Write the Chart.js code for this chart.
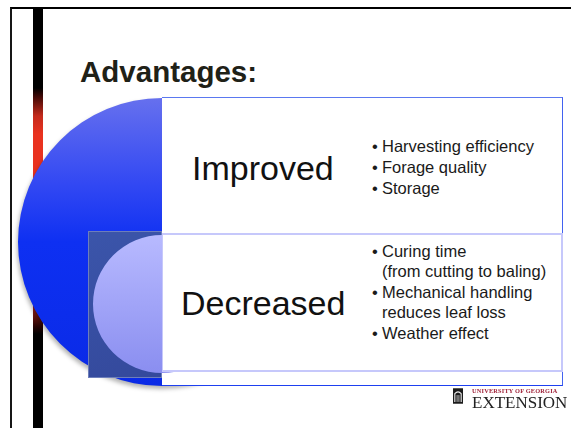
<!DOCTYPE html>
<html>
<head>
<meta charset="utf-8">
<script src="https://cdn.jsdelivr.net/npm/chart.js@4.4.1/dist/chart.umd.min.js"></script>
<style>
  html, body { margin: 0; padding: 0; background: #fff; }
  body { width: 571px; height: 428px; position: relative; overflow: hidden; font-family: 'Liberation Sans', Arial, sans-serif; }
  .abs { position: absolute; box-sizing: border-box; }
  #frame { left: 10px; top: 7px; width: 620px; height: 480px; border-top: 2px solid #000; border-left: 2px solid #161616; }
  #stripe { left: 33px; top: 8px; width: 10px; height: 420px;
    background: linear-gradient(to bottom, #000 0px, #000 80px, #3c0805 88px, #c42a1c 108px, #e9321f 126px, #e9321f 272px, #a8241a 298px, #2a0403 318px, #000 326px, #000 420px); }
  #title { left: 80px; top: 57px; font-size: 29.5px; font-weight: bold; line-height: 29px; color: #1f2117; white-space: nowrap; }
  #bigCircle { left: 18px; top: 98px; filter: drop-shadow(-1px 3px 2px rgba(0,0,0,0.3)); }
  #outer { left: 162px; top: 97px; width: 401px; height: 289px; background: #fff;
    border-top: 1px solid #5a78f0; border-right: 1px solid #4262f0; border-bottom: 1.5px solid #1e40f0; }
  #square { left: 88px; top: 231px; width: 74px; height: 147px; border: 1px solid rgba(120,135,190,0.85);
    background: linear-gradient(160deg, #3b55aa 0%, #34499c 100%); }
  #smallCircle { left: 93px; top: 235px; }
  #lower { left: 162px; top: 233px; width: 401px; height: 139px; background: #fff; border: 2px solid #c6c8fb; border-left-width: 1px; }
  .head { font-size: 34px; line-height: 34px; color: #111; white-space: nowrap; }
  .list { left: 372px; margin: 0; padding: 0; list-style: none; font-size: 16.5px; line-height: 20px; color: #1a1a1a; white-space: pre; }
  .list li { position: relative; padding-left: 10px; margin-bottom: 1px; }
  .list li span { position: absolute; left: 0; top: 0; }
  #logoMark { left: 453px; top: 388px; }
  #logoTop { left: 472px; top: 387px; font-family: 'Liberation Serif', serif; font-weight: bold; font-size: 6.3px; letter-spacing: 0.2px; color: #a0243a; white-space: nowrap; }
  #logoBottom { left: 472px; top: 394px; font-family: 'Liberation Serif', serif; font-size: 17px; line-height: 17px; color: #222; white-space: nowrap; }
</style>
</head>
<body>
<div id="frame" class="abs"></div>
<div id="stripe" class="abs"></div>
<div id="title" class="abs">Advantages:</div>
<canvas id="bigCircle" class="abs" width="288" height="288"></canvas>
<div id="outer" class="abs"></div>
<div id="square" class="abs"></div>
<canvas id="smallCircle" class="abs" width="138" height="138"></canvas>
<div id="lower" class="abs"></div>
<div id="head0" class="abs head" style="left:192px;top:151px"></div>
<div id="head1" class="abs head" style="left:181px;top:286px"></div>
<ul id="list0" class="abs list" style="top:136px"></ul>
<ul id="list1" class="abs list" style="top:241px"></ul>
<svg id="logoMark" class="abs" width="10" height="16" viewBox="0 0 11 17">
  <rect x="0" y="0" width="11" height="17" fill="#1b1b1b"/>
  <path d="M2 15 V6 Q5.5 2 9 6 V15" fill="none" stroke="#eee" stroke-width="1.2"/>
  <path d="M4.5 15 V7.5 M6.5 15 V7.5" stroke="#eee" stroke-width="0.8"/>
</svg>
<div id="logoTop" class="abs">UNIVERSITY OF GEORGIA</div>
<div id="logoBottom" class="abs">EXTENSION</div>
<script>
const $ = (id) => document.getElementById(id);

const sections = ['Improved', 'Decreased'];
const improvedPoints = ['Harvesting efficiency', 'Forage quality', 'Storage'];
const decreasedPoints = ['Curing time\n(from cutting to baling)', 'Mechanical handling\nreduces leaf loss', 'Weather effect'];
const circleShare = [1];

function vertical(stops) {
  return (ctx) => {
    const area = ctx.chart.chartArea;
    if (!area) return stops[stops.length - 1][1];
    const g = ctx.chart.ctx.createLinearGradient(0, area.top, 0, area.bottom);
    stops.forEach(([at, color]) => g.addColorStop(at, color));
    return g;
  };
}

function circle(id, label, stops) {
  return new Chart($(id), {
    type: 'pie',
    data: { labels: [label], datasets: [{ data: circleShare, backgroundColor: vertical(stops), borderWidth: 0 }] },
    options: {
      responsive: false,
      animation: false,
      devicePixelRatio: 1,
      events: [],
      layout: { padding: 0 },
      plugins: { legend: { display: false }, tooltip: { enabled: false } },
    },
  });
}

function fillList(id, points) {
  points.forEach((text) => {
    const li = document.createElement('li');
    const dot = document.createElement('span');
    dot.textContent = '•';
    li.appendChild(dot);
    li.appendChild(document.createTextNode(text));
    $(id).appendChild(li);
  });
}

$('head0').textContent = sections[0];
$('head1').textContent = sections[1];
fillList('list0', improvedPoints);
fillList('list1', decreasedPoints);

circle('bigCircle', sections[0], [[0, '#6670ee'], [0.3, '#3248f3'], [0.5, '#0e30f2'], [1, '#0a2ae6']]);
circle('smallCircle', sections[1], [[0, '#b8baff'], [1, '#8a8ef0']]);
</script>
</body>
</html>
